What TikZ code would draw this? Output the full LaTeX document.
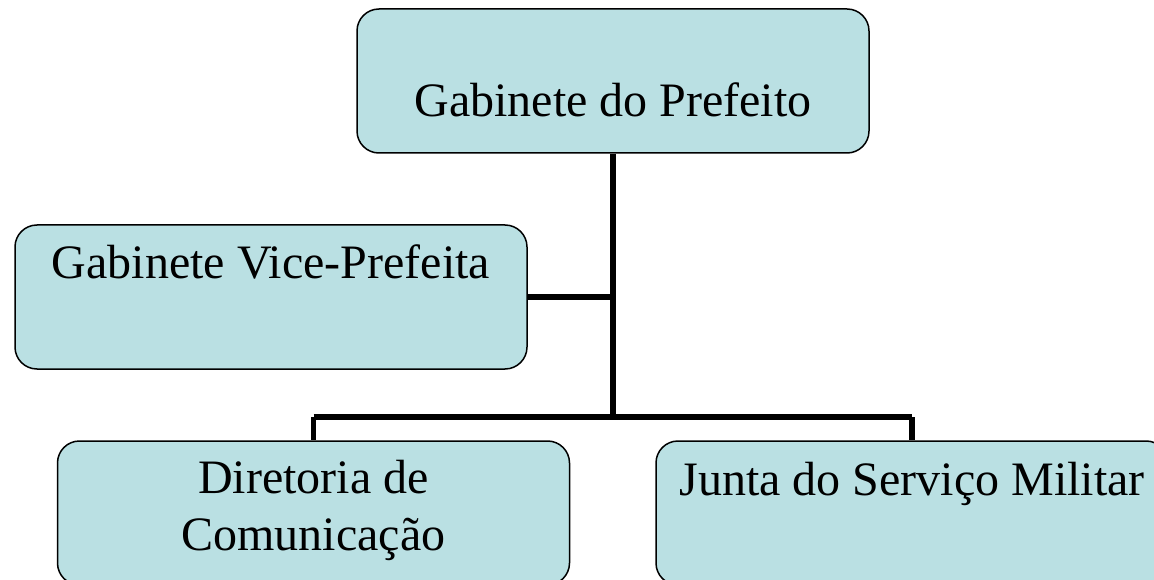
\documentclass[tikz,border=0pt]{standalone}
\usepackage{fontspec}
\setmainfont{Liberation Serif}
\definecolor{unitfill}{RGB}{186,224,227}
\tikzset{
  unit/.style={draw, line width=1.5pt, fill=unitfill, rounded corners=22pt,
    inner sep=0pt, minimum width=512pt, align=center,
    font=\fontsize{48}{57}\selectfont},
  link/.style={line width=5.5pt}
}
\begin{document}
\begin{tikzpicture}[x=1pt,y=-1pt]
      \useasboundingbox (0,0) rectangle (1154,580);
      \clip (0,0) rectangle (1154,580);
      \draw
        (613,81) node[unit, text height=108pt, text depth=36pt] (gab){Gabinete do Prefeito}
        (271,297) node[unit, text height=53pt, text depth=91pt] (vice){Gabinete Vice-Prefeita}
        (313.5,513) node[unit, text height=109pt, text depth=35pt] (dir){Diretoria de\\Comunicação}
        (912,513) node[unit, text height=54pt, text depth=90pt] (junta){Junta do Serviço Militar};
      \coordinate (bar) at (613,417);
      \begin{scope}[link]
        \draw (gab) to (bar);
        \draw (vice) to (vice -| gab);
        \draw (dir.north |- bar) to (junta.north |- bar);
        \draw (dir.north |- bar) to (dir);
        \draw (junta.north |- bar) to (junta);
      \end{scope}
    \end{tikzpicture}
\end{document}
